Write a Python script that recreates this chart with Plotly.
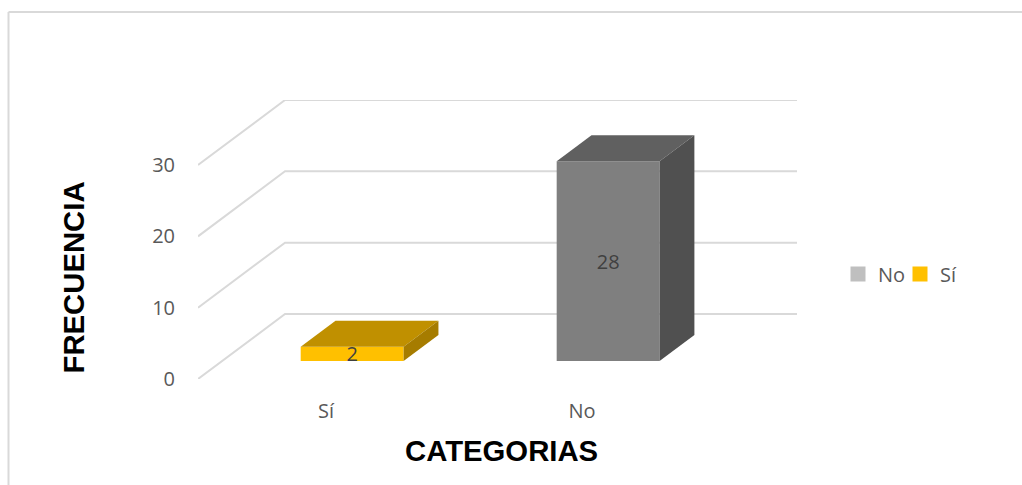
import plotly.graph_objects as go

categories = ["Sí", "No"]
values = [2, 28]
legend_order = ["No", "Sí"]
front_colors = {"Sí": "#FFC000", "No": "#7F7F7F"}
top_colors = {"Sí": "#C09000", "No": "#606060"}
side_colors = {"Sí": "#A67C00", "No": "#505050"}
legend_colors = {"Sí": "#FFC000", "No": "#BFBFBF"}
y_ticks = [0, 10, 20, 30]
x_title = "CATEGORIAS"
y_title = "FRECUENCIA"

W, H = 1022, 485
# Oblique projection of the 3-D plot: a full depth shifts by this much in data units
DEPTH_X = 0.34
DEPTH_Y = 9.12
BAR_WIDTH = 0.402
BAR_DEPTH_START = 0.277
BAR_DEPTH = 0.40
BAR_SHIFT = 0.008
TEXT = "#595959"
GRID = "#D9D9D9"
FONT_SIZE = 20
TITLE_SIZE = 29.3


def proj(x, y, d):
    return x + d * DEPTH_X, y + d * DEPTH_Y


fig = go.Figure()

# Front faces
for cat_i, (cat, val) in enumerate(zip(categories, values)):
    x0, base = proj(cat_i + BAR_SHIFT, 0, BAR_DEPTH_START)
    fig.add_trace(go.Bar(
        x=[x0], y=[val], base=[base], width=[BAR_WIDTH],
        marker=dict(color=front_colors[cat], line=dict(width=0)),
        text=[str(val)], textposition="inside", textangle=0,
        insidetextanchor="middle", constraintext="none",
        textfont=dict(family="Open Sans", size=FONT_SIZE, color="#404040"),
        showlegend=False, name=cat,
    ))

    # Top and side faces derived from the same value
    xl = cat_i + BAR_SHIFT - BAR_WIDTH / 2
    xr = cat_i + BAR_SHIFT + BAR_WIDTH / 2
    d0, d1 = BAR_DEPTH_START, BAR_DEPTH_START + BAR_DEPTH
    top = [proj(xl, val, d0), proj(xr, val, d0), proj(xr, val, d1), proj(xl, val, d1), proj(xl, val, d0)]
    side = [proj(xr, 0, d0), proj(xr, 0, d1), proj(xr, val, d1), proj(xr, val, d0), proj(xr, 0, d0)]
    for pts, colors in ((top, top_colors), (side, side_colors)):
        fig.add_trace(go.Scatter(
            x=[p[0] for p in pts], y=[p[1] for p in pts], mode="lines",
            fill="toself", fillcolor=colors[cat], line=dict(width=0),
            hoverinfo="skip", showlegend=False,
        ))

# Legend entries
for name in legend_order:
    fig.add_trace(go.Scatter(
        x=[None], y=[None], mode="markers", name=name,
        marker=dict(symbol="square", size=15, color=legend_colors[name]),
    ))

# Walls: floor-side diagonal and back-wall line for every tick
x_start = -0.5
x_end = 1.5
shapes = []
for t in y_ticks:
    bx, by = proj(x_start, t, 1)
    ex, _ = proj(x_end, t, 1)
    shapes.append(dict(type="path", xref="x", yref="y", layer="below",
                       path=f"M {x_start} {t} L {bx} {by} L {ex} {by}",
                       line=dict(color=GRID, width=2)))
# Outer frame of the picture (left and top edges visible)
shapes.append(dict(type="line", xref="paper", yref="paper",
                   x0=8.5 / W, x1=8.5 / W, y0=0, y1=1 - 12 / H,
                   line=dict(color="#D9D9D9", width=2)))
shapes.append(dict(type="line", xref="paper", yref="paper",
                   x0=8.5 / W, x1=1, y0=1 - 12 / H, y1=1 - 12 / H,
                   line=dict(color="#D9D9D9", width=2)))

x_max = proj(x_end, 0, 1)[0]
y_max = proj(0, 30, 1)[1]

fig.update_layout(
    width=W, height=H, margin=dict(l=0, r=0, t=0, b=0, autoexpand=False),
    paper_bgcolor="white", plot_bgcolor="rgba(0,0,0,0)",
    barmode="overlay", shapes=shapes,
    font=dict(family="Open Sans", size=FONT_SIZE, color=TEXT),
    xaxis=dict(domain=[198 / W, 797 / W], range=[x_start, x_max],
               tickmode="array", tickvals=list(range(len(categories))), ticktext=categories,
               showgrid=False, zeroline=False, showline=False, ticks="",
               ticklabelstandoff=18, tickfont=dict(family="Open Sans", size=FONT_SIZE, color=TEXT)),
    yaxis=dict(domain=[1 - 379 / H, 1 - 100 / H], range=[0, y_max],
               tickmode="array", tickvals=y_ticks,
               showgrid=False, zeroline=False, showline=False, ticks="",
               ticklabelstandoff=22, tickfont=dict(family="Open Sans", size=FONT_SIZE, color=TEXT)),
    legend=dict(orientation="h", x=838 / W, y=1 - 274 / H, xanchor="left", yanchor="middle",
                font=dict(family="Open Sans", size=FONT_SIZE, color=TEXT),
                bgcolor="rgba(0,0,0,0)", entrywidth=17, entrywidthmode="pixels"),
    annotations=[
        dict(text=x_title, xref="paper", yref="paper", x=501 / W, y=1 - 450 / H,
             showarrow=False, xanchor="center", yanchor="middle",
             font=dict(family="Liberation Sans", size=TITLE_SIZE, color="black", weight="bold")),
        dict(text=y_title, xref="paper", yref="paper", x=73 / W, y=1 - 277.5 / H,
             showarrow=False, xanchor="center", yanchor="middle", textangle=-90,
             font=dict(family="Liberation Sans", size=TITLE_SIZE, color="black", weight="bold")),
    ],
)

fig.write_html("out.html", config={"displayModeBar": False},
               post_script="document.body.style.margin='0';")
